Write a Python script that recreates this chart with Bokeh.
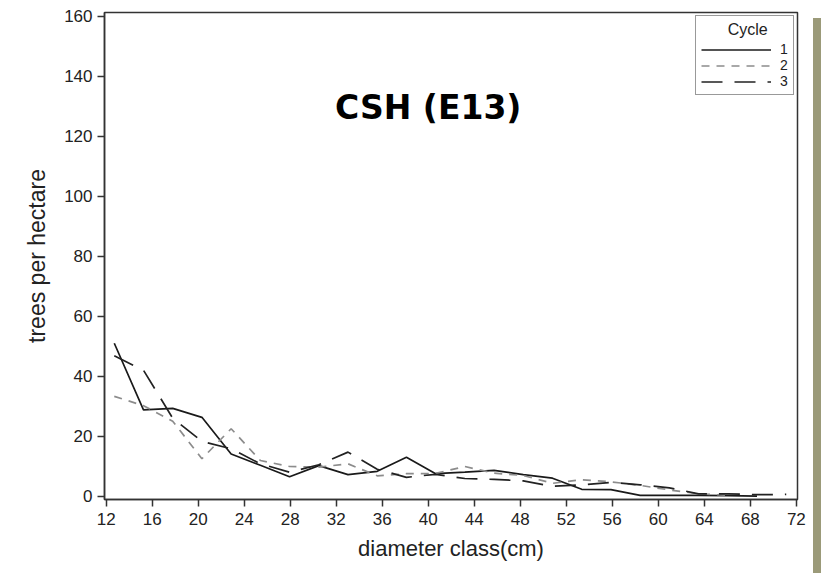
from bokeh.plotting import figure
from bokeh.layouts import row
from bokeh.models import Range1d, FixedTicker, Legend, LegendItem, Label, Div
from bokeh.embed import file_html
from bokeh.resources import INLINE

# Diameter class midpoints (cm) – one-inch classes from 5 in to 28 in
diameter_cm = [12.70, 15.24, 17.78, 20.32, 22.86, 25.40, 27.94, 30.48, 33.02, 35.56,
               38.10, 40.64, 43.18, 45.72, 48.26, 50.80, 53.34, 55.88, 58.42, 60.96,
               63.50, 66.04, 68.58, 71.12]

# Trees per hectare by measurement cycle
cycle1 = [51.0, 28.8, 29.3, 26.3, 14.1, 10.3, 6.5, 10.2, 7.2, 8.3,
          13.0, 7.5, 8.0, 8.6, 7.2, 6.0, 2.3, 2.2, 0.3, 0.3,
          0.3, 0.2, 0.0]
cycle2 = [33.3, 30.2, 25.0, 12.5, 22.5, 11.9, 9.9, 9.7, 10.8, 6.8,
          7.5, 7.6, 9.9, 7.7, 6.9, 4.3, 5.5, 4.8, 3.6, 2.1,
          0.8, 0.3]
cycle3 = [46.8, 42.0, 26.0, 18.3, 15.8, 10.8, 8.0, 10.5, 14.7, 9.0,
          6.3, 7.3, 5.9, 5.6, 5.1, 3.3, 3.8, 4.6, 3.8, 2.8,
          0.8, 0.8, 0.5, 0.6]

x_ticks = list(range(12, 73, 4))
y_ticks = list(range(0, 161, 20))

AXIS_COLOR = "#333333"
TEXT_COLOR = "#222222"

p = figure(width=812, height=573,
           x_range=Range1d(11.85, 72.1), y_range=Range1d(-1.1, 161.3),
           output_backend="svg", toolbar_location=None,
           min_border_left=104, min_border_right=15,
           min_border_top=12, min_border_bottom=74)

p.background_fill_color = "white"
p.border_fill_color = "white"
p.grid.visible = False
p.outline_line_color = AXIS_COLOR
p.outline_line_width = 1.5

for ax in (p.xaxis[0], p.yaxis[0]):
    ax.axis_line_color = AXIS_COLOR
    ax.axis_line_width = 1.5
    ax.major_tick_line_color = AXIS_COLOR
    ax.major_tick_line_width = 1.5
    ax.major_tick_out = 7
    ax.major_tick_in = 0
    ax.minor_tick_line_color = None
    ax.major_label_text_font = "Liberation Sans"
    ax.major_label_text_font_size = "17px"
    ax.major_label_text_color = TEXT_COLOR
    ax.axis_label_text_font = "Liberation Sans"
    ax.axis_label_text_font_style = "normal"
    ax.axis_label_text_color = TEXT_COLOR

p.xaxis.axis_label_text_font_size = "22px"
p.yaxis.axis_label_text_font_size = "23px"
p.xaxis.ticker = FixedTicker(ticks=x_ticks)
p.yaxis.ticker = FixedTicker(ticks=y_ticks)
p.xaxis.axis_label = "diameter class(cm)"
p.yaxis.axis_label = "trees per hectare"
p.xaxis.major_label_standoff = 6
p.yaxis.major_label_standoff = 5
p.xaxis.axis_label_standoff = 8
p.yaxis.axis_label_standoff = 11

r1 = p.line(diameter_cm[:len(cycle1)], cycle1, line_color="#1a1a1a", line_width=1.7)
r2 = p.line(diameter_cm[:len(cycle2)], cycle2, line_color="#8c8c8c", line_width=1.7,
            line_dash="8 7")
r3 = p.line(diameter_cm[:len(cycle3)], cycle3, line_color="#222222", line_width=1.7,
            line_dash="21 12")

# Legend heading is padded with no-break spaces so it sits centred over the entries
legend = Legend(items=[LegendItem(label="1", renderers=[r1]),
                       LegendItem(label="2", renderers=[r2]),
                       LegendItem(label="3", renderers=[r3])],
                location="top_right", title="\u00a0" * 6 + "Cycle",
                margin=3, padding=5, spacing=0,
                glyph_width=70, glyph_height=13, label_height=13, label_width=8,
                label_standoff=9,
                label_text_font="Liberation Sans", label_text_font_size="14px",
                label_text_line_height=1.0,
                label_text_color=TEXT_COLOR,
                title_text_font="Liberation Sans", title_text_font_size="16px",
                title_text_font_style="normal", title_text_color=TEXT_COLOR,
                title_standoff=2,
                border_line_color=AXIS_COLOR, border_line_width=1.2,
                background_fill_color="white", background_fill_alpha=1.0)
p.add_layout(legend)

# Chart heading
p.add_layout(Label(x=40.0, y=129.6, text="CSH (E13)", text_align="center",
                   text_baseline="middle", text_font="DejaVu Sans",
                   text_font_style="bold", text_font_size="33px",
                   text_color="black"))

# Slide backdrop strip along the right edge
strip = Div(text="", width=8, height=555, margin=(18, 0, 0, 1),
            styles={"background-color": "#9b9a79"})

layout = row(p, strip, spacing=0)

open("out.html", "w").write(file_html(layout, INLINE))
